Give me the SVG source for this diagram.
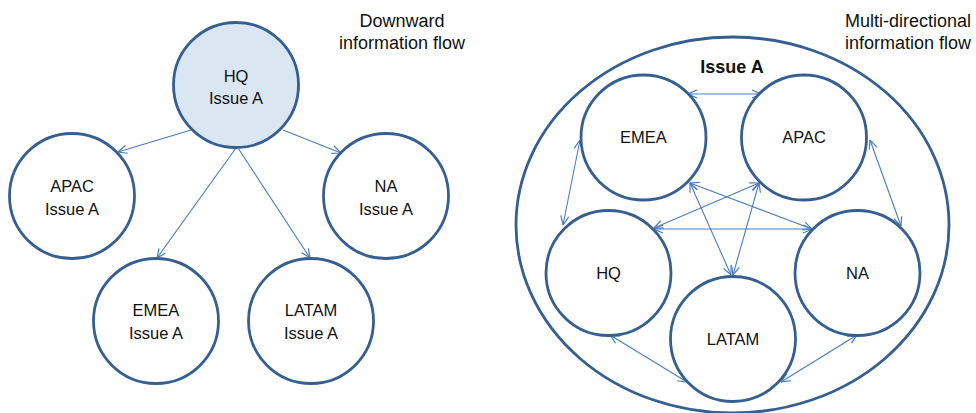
<svg xmlns="http://www.w3.org/2000/svg" width="976" height="413" viewBox="0 0 976 413">
  <style>
    .node { fill: #ffffff; stroke: #365f91; stroke-width: 2.8; }
    .hq { fill: #dae6f2; }
    .outer { fill: none; stroke: #365f91; stroke-width: 2.8; }
    .lbl { font-family: "Liberation Sans", Arial, sans-serif; font-size: 16.5px; fill: #111111; text-anchor: middle; }
    .cap { font-family: "Liberation Sans", Arial, sans-serif; font-size: 18px; fill: #111111; }
    .title { font-family: "Liberation Sans", Arial, sans-serif; font-size: 18px; font-weight: bold; fill: #111111; text-anchor: middle; }
    .link { fill: none; stroke: #4a7ebb; stroke-width: 1.1; }
    .one { marker-end: url(#head); }
    .two { marker-start: url(#head); marker-end: url(#head); }
  </style>
  <defs>
    <marker id="head" viewBox="0 0 10 10" refX="10" refY="5" markerWidth="10" markerHeight="10" markerUnits="userSpaceOnUse" orient="auto-start-reverse">
      <path d="M1,1 L10,5 L1,9" fill="none" stroke="#4a7ebb" stroke-width="1.2"/>
    </marker>
  </defs>

  <rect width="976" height="413" fill="#ffffff"/>

  <!-- Left: downward flow -->
  <text class="cap" x="402" y="27" text-anchor="middle">Downward</text>
  <text class="cap" x="402" y="49" text-anchor="middle">information flow</text>

  <g id="connectors-down">
    <path class="link one" d="M191,130 L118,152"/>
    <path class="link one" d="M283,130 L341,153"/>
    <path class="link one" d="M236,148 L157,258"/>
    <path class="link one" d="M238,148 L310,258"/>
  </g>

  <g id="hq-top">
    <circle class="node hq" cx="236" cy="85" r="62.5"/>
    <text class="lbl" x="236" y="82">HQ</text>
    <text class="lbl" x="236" y="104">Issue A</text>
  </g>
  <g id="apac-left">
    <circle class="node" cx="72" cy="196" r="62.5"/>
    <text class="lbl" x="72" y="192">APAC</text>
    <text class="lbl" x="72" y="215">Issue A</text>
  </g>
  <g id="na-left">
    <circle class="node" cx="386" cy="196" r="62.5"/>
    <text class="lbl" x="386" y="192">NA</text>
    <text class="lbl" x="386" y="215">Issue A</text>
  </g>
  <g id="emea-left">
    <circle class="node" cx="156" cy="321" r="62.5"/>
    <text class="lbl" x="156" y="316">EMEA</text>
    <text class="lbl" x="156" y="339">Issue A</text>
  </g>
  <g id="latam-left">
    <circle class="node" cx="311" cy="321" r="62.5"/>
    <text class="lbl" x="311" y="316">LATAM</text>
    <text class="lbl" x="311" y="339">Issue A</text>
  </g>

  <!-- Right: multi-directional flow -->
  <text class="cap" x="845" y="27">Multi-directional</text>
  <text class="cap" x="845" y="49">information flow</text>

  <g id="issue-a">
    <ellipse class="outer" cx="732.5" cy="225" rx="216.5" ry="188"/>
    <text class="title" x="732" y="73">Issue A</text>
  </g>

  <g id="connectors-multi">
    <path class="link two" d="M688,94 L761,94"/>
    <path class="link two" d="M580,140 L563,225"/>
    <path class="link two" d="M870,140 L901,226"/>
    <path class="link two" d="M690,183 L812,229"/>
    <path class="link two" d="M759,183 L654,228"/>
    <path class="link two" d="M654,229 L812,229"/>
    <path class="link two" d="M690,183 L731,275"/>
    <path class="link two" d="M759,183 L733,275"/>
    <path class="link two" d="M610,335 L687,382"/>
    <path class="link two" d="M857,335 L781,382"/>
  </g>

  <g id="emea">
    <circle class="node" cx="643.5" cy="137.5" r="62.5"/>
    <text class="lbl" x="643.5" y="143">EMEA</text>
  </g>
  <g id="apac">
    <circle class="node" cx="804" cy="137.5" r="62.5"/>
    <text class="lbl" x="804" y="143">APAC</text>
  </g>
  <g id="hq">
    <circle class="node" cx="608.5" cy="273" r="62.5"/>
    <text class="lbl" x="608.5" y="279">HQ</text>
  </g>
  <g id="na">
    <circle class="node" cx="857.5" cy="273" r="62.5"/>
    <text class="lbl" x="857.5" y="279">NA</text>
  </g>
  <g id="latam">
    <circle class="node" cx="733" cy="339" r="62.5"/>
    <text class="lbl" x="733" y="345">LATAM</text>
  </g>
</svg>
